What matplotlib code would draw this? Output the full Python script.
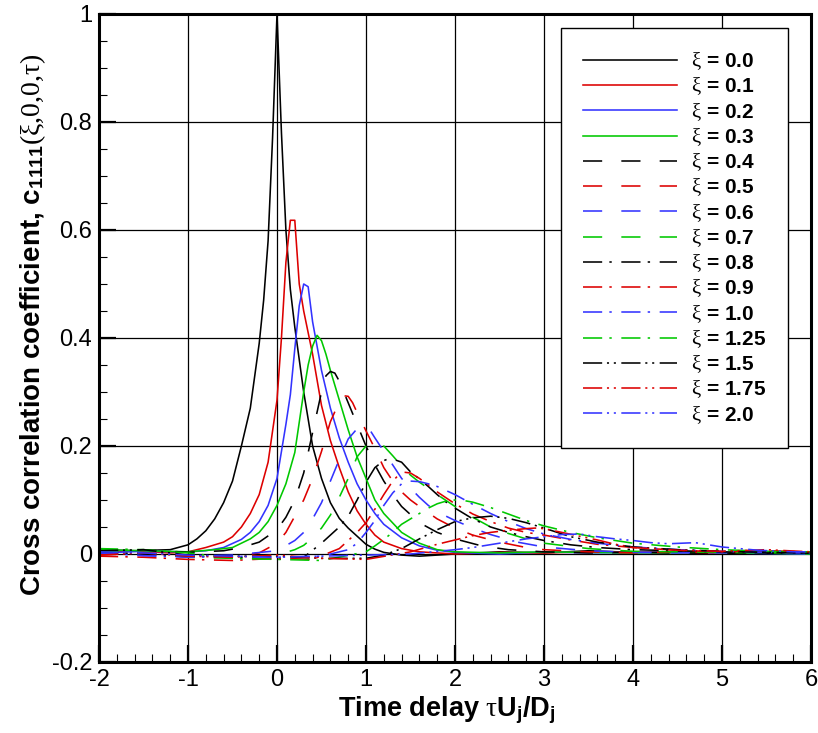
import matplotlib
matplotlib.use('Agg')
import matplotlib.pyplot as plt
from matplotlib.ticker import MultipleLocator

plt.rcParams['font.family'] = ['Liberation Sans', 'DejaVu Sans']
plt.rcParams['mathtext.fontset'] = 'custom'
plt.rcParams['mathtext.rm'] = 'Liberation Serif'
plt.rcParams['mathtext.it'] = 'Liberation Serif:italic'
plt.rcParams['mathtext.bf'] = 'Liberation Sans:bold'

# ---------------- data ----------------
xi_values = ['0.0', '0.1', '0.2', '0.3', '0.4', '0.5', '0.6', '0.7', '0.8',
             '0.9', '1.0', '1.25', '1.5', '1.75', '2.0']

tau_00 = [-2.0, -1.6, -1.2, -1.0, -0.9, -0.8, -0.7, -0.6, -0.5, -0.4, -0.3, -0.2, -0.15, -0.1,
          -0.05, 0.0, 0.05, 0.1, 0.15, 0.2, 0.3, 0.4, 0.5, 0.6, 0.7, 0.8, 0.9, 1.0, 1.1, 1.2,
          1.4, 1.6, 1.8, 2.0, 2.5, 3.0, 3.5, 4.0, 4.5, 5.0, 5.5, 6.0]
c_00 = [0.008, 0.006, 0.008, 0.017, 0.028, 0.043, 0.065, 0.095, 0.135, 0.2, 0.27, 0.39, 0.47, 0.58,
        0.77, 1.0, 0.78, 0.6, 0.49, 0.42, 0.30, 0.2, 0.14, 0.095, 0.066, 0.048, 0.033, 0.018, 0.009,
        0.003, -0.002, -0.004, -0.002, 0.0, 0.004, 0.002, 0.006, 0.003, 0.004, 0.002, 0.004, 0.002]

tau_01 = [-2.0, -1.6, -1.2, -1.0, -0.8, -0.6, -0.5, -0.4, -0.3, -0.2, -0.1, 0.0, 0.05, 0.1, 0.15,
          0.2, 0.25, 0.3, 0.4, 0.5, 0.6, 0.7, 0.8, 0.9, 1.0, 1.1, 1.2, 1.4, 1.6, 1.8, 2.0, 2.5,
          3.0, 3.5, 4.0, 5.0, 6.0]
c_01 = [0.003, 0.006, 0.002, 0.004, 0.012, 0.022, 0.032, 0.05, 0.075, 0.11, 0.17, 0.285, 0.40,
        0.54, 0.618, 0.618, 0.50, 0.45, 0.37, 0.275, 0.21, 0.16, 0.115, 0.08, 0.055, 0.035,
        0.022, 0.01, 0.004, 0.002, 0.0, 0.003, 0.002, 0.004, 0.003, 0.002, 0.002]

tau_02 = [-2.0, -1.5, -1.0, -0.8, -0.6, -0.4, -0.3, -0.2, -0.1, 0.0, 0.1, 0.15, 0.2, 0.25, 0.3,
          0.35, 0.4, 0.5, 0.6, 0.7, 0.8, 0.9, 1.0, 1.1, 1.2, 1.4, 1.6, 1.8, 2.0, 2.5, 3.0, 3.5,
          4.0, 5.0, 6.0]
c_02 = [0.002, 0.005, 0.004, 0.006, 0.012, 0.027, 0.04, 0.06, 0.09, 0.14, 0.24, 0.295, 0.38,
        0.46, 0.50, 0.495, 0.43, 0.34, 0.27, 0.215, 0.17, 0.13, 0.1, 0.075, 0.055, 0.03, 0.015,
        0.007, 0.003, 0.0, 0.004, 0.002, 0.003, 0.002, 0.0]

tau_03 = [-2.0, -1.5, -1.0, -0.7, -0.5, -0.3, -0.2, -0.1, 0.0, 0.1, 0.2, 0.3, 0.35, 0.4, 0.45,
          0.5, 0.55, 0.6, 0.7, 0.8, 0.9, 1.0, 1.1, 1.2, 1.4, 1.6, 1.8, 2.0, 2.5, 3.0, 3.5, 4.0,
          5.0, 6.0]
c_03 = [0.008, 0.006, 0.004, 0.008, 0.012, 0.028, 0.04, 0.06, 0.09, 0.13, 0.188, 0.3, 0.35,
        0.385, 0.405, 0.395, 0.37, 0.34, 0.285, 0.23, 0.18, 0.14, 0.1, 0.075, 0.04, 0.02, 0.008,
        0.004, 0.002, 0.004, 0.003, 0.002, 0.003, 0.0]

tau_04 = [-2.0, -1.5, -1.0, -0.6, -0.4, -0.2, 0.0, 0.1, 0.2, 0.3, 0.4, 0.5, 0.55, 0.6, 0.65,
          0.7, 0.8, 0.9, 1.0, 1.1, 1.2, 1.3, 1.4, 1.6, 1.8, 2.0, 2.3, 2.6, 3.0, 3.5, 4.0, 5.0, 6.0]
c_04 = [0.005, 0.008, 0.003, 0.006, 0.012, 0.022, 0.045, 0.068, 0.1, 0.15, 0.225, 0.3, 0.33,
        0.338, 0.335, 0.32, 0.28, 0.24, 0.2, 0.165, 0.135, 0.11, 0.088, 0.058, 0.04, 0.028,
        0.015, 0.008, 0.004, 0.002, 0.003, 0.001, 0.002]

tau_05 = [-2.0, -1.5, -1.0, -0.5, -0.2, 0.0, 0.1, 0.2, 0.3, 0.4, 0.5, 0.6, 0.7, 0.75, 0.8, 0.85,
          0.9, 1.0, 1.1, 1.2, 1.3, 1.4, 1.5, 1.6, 1.8, 2.0, 2.2, 2.5, 2.8, 3.0, 3.5, 4.0, 4.5,
          5.0, 5.5, 6.0]
c_05 = [-0.002, 0.003, -0.006, -0.005, 0.002, 0.02, 0.04, 0.07, 0.1, 0.14, 0.19, 0.245, 0.282,
        0.293, 0.292, 0.28, 0.262, 0.228, 0.195, 0.16, 0.135, 0.115, 0.1, 0.088, 0.065, 0.048,
        0.035, 0.022, 0.012, 0.008, 0.004, 0.002, 0.004, 0.002, 0.006, 0.002]

tau_06 = [-2.0, -1.5, -1.0, -0.5, 0.0, 0.2, 0.3, 0.4, 0.5, 0.6, 0.7, 0.8, 0.9, 0.95, 1.0, 1.05,
          1.1, 1.2, 1.3, 1.4, 1.5, 1.6, 1.7, 1.8, 2.0, 2.2, 2.4, 2.7, 3.0, 3.5, 4.0, 4.5, 5.0,
          5.5, 6.0]
c_06 = [0.004, -0.003, -0.004, -0.002, 0.006, 0.025, 0.04, 0.065, 0.095, 0.135, 0.175, 0.213,
        0.232, 0.237, 0.236, 0.228, 0.215, 0.19, 0.165, 0.14, 0.122, 0.105, 0.09, 0.078, 0.062,
        0.048, 0.036, 0.022, 0.013, 0.006, 0.003, 0.002, 0.003, 0.002, 0.0]

tau_07 = [-2.0, -1.5, -1.0, -0.5, 0.0, 0.2, 0.3, 0.4, 0.5, 0.6, 0.7, 0.8, 0.9, 1.0, 1.05, 1.1,
          1.15, 1.2, 1.3, 1.4, 1.5, 1.6, 1.8, 2.0, 2.2, 2.4, 2.6, 2.8, 3.0, 3.5, 4.0, 4.5, 5.0,
          5.5, 6.0]
c_07 = [0.006, 0.002, -0.006, -0.008, -0.002, 0.008, 0.016, 0.03, 0.048, 0.072, 0.105, 0.14,
        0.18, 0.2, 0.206, 0.207, 0.206, 0.2, 0.182, 0.163, 0.146, 0.133, 0.11, 0.088, 0.068,
        0.05, 0.038, 0.028, 0.02, 0.01, 0.005, 0.004, 0.003, 0.002, 0.003]

tau_08 = [-2.0, -1.5, -1.0, -0.5, 0.0, 0.3, 0.5, 0.6, 0.7, 0.8, 0.9, 1.0, 1.1, 1.2, 1.25, 1.3,
          1.4, 1.5, 1.6, 1.7, 1.8, 1.9, 2.0, 2.2, 2.4, 2.6, 2.8, 3.0, 3.3, 3.6, 4.0, 4.5, 5.0,
          5.5, 6.0]
c_08 = [0.003, 0.0, -0.004, -0.006, -0.01, -0.006, 0.02, 0.035, 0.05, 0.07, 0.1, 0.133, 0.16,
        0.173, 0.176, 0.176, 0.17, 0.152, 0.139, 0.125, 0.11, 0.096, 0.085, 0.065, 0.05, 0.04,
        0.032, 0.025, 0.017, 0.012, 0.008, 0.006, 0.004, 0.002, 0.002]

tau_09 = [-2.0, -1.5, -1.0, -0.5, 0.0, 0.4, 0.7, 0.8, 0.9, 1.0, 1.1, 1.2, 1.3, 1.4, 1.5, 1.6,
          1.7, 1.8, 2.0, 2.2, 2.4, 2.6, 2.8, 3.0, 3.3, 3.6, 4.0, 4.5, 5.0, 5.5, 6.0]
c_09 = [-0.004, -0.006, -0.01, -0.012, -0.008, -0.01, 0.01, 0.025, 0.04, 0.058, 0.083, 0.11,
        0.135, 0.152, 0.15, 0.14, 0.128, 0.115, 0.093, 0.074, 0.06, 0.048, 0.04, 0.035, 0.026,
        0.018, 0.012, 0.007, 0.004, 0.006, 0.003]

tau_10 = [-2.0, -1.5, -1.0, -0.5, 0.0, 0.5, 0.8, 0.9, 1.0, 1.1, 1.2, 1.3, 1.4, 1.5, 1.6, 1.7,
          1.8, 2.0, 2.2, 2.4, 2.6, 2.8, 3.0, 3.3, 3.6, 4.0, 4.5, 5.0, 5.5, 6.0]
c_10 = [0.002, -0.003, -0.006, -0.004, -0.006, -0.004, 0.008, 0.02, 0.04, 0.062, 0.09, 0.113,
        0.13, 0.135, 0.134, 0.13, 0.125, 0.11, 0.092, 0.075, 0.06, 0.047, 0.037, 0.027, 0.02,
        0.013, 0.008, 0.005, 0.003, 0.002]

tau_125 = [-2.0, -1.5, -1.0, -0.5, 0.0, 0.5, 1.0, 1.1, 1.2, 1.3, 1.4, 1.5, 1.6, 1.7, 1.8, 1.9,
           2.0, 2.1, 2.2, 2.4, 2.6, 2.8, 3.0, 3.3, 3.6, 4.0, 4.5, 5.0, 5.5, 6.0]
c_125 = [0.01, 0.008, 0.002, -0.008, -0.01, -0.012, 0.004, 0.015, 0.027, 0.04, 0.055, 0.065,
         0.075, 0.085, 0.093, 0.098, 0.1, 0.099, 0.096, 0.086, 0.074, 0.062, 0.052, 0.04, 0.03,
         0.02, 0.013, 0.008, 0.005, 0.004]

tau_15 = [-2.0, -1.5, -1.0, -0.5, 0.0, 0.5, 1.0, 1.2, 1.4, 1.6, 1.8, 2.0, 2.2, 2.4, 2.6, 2.8,
          3.0, 3.3, 3.6, 4.0, 4.5, 5.0, 5.5, 6.0]
c_15 = [0.006, 0.008, -0.002, -0.004, -0.004, -0.008, -0.008, -0.002, 0.01, 0.028, 0.045, 0.06,
        0.067, 0.07, 0.066, 0.058, 0.048, 0.032, 0.022, 0.013, 0.008, 0.005, 0.003, 0.002]

tau_175 = [-2.0, -1.5, -1.0, -0.5, 0.0, 0.5, 1.0, 1.5, 1.8, 2.0, 2.2, 2.4, 2.6, 2.8, 2.9, 3.0,
           3.2, 3.4, 3.6, 3.8, 4.0, 4.5, 5.0, 5.5, 6.0]
c_175 = [-0.002, 0.002, -0.004, -0.006, -0.002, -0.008, -0.01, 0.004, 0.018, 0.026, 0.034, 0.04,
         0.044, 0.047, 0.048, 0.047, 0.04, 0.033, 0.026, 0.018, 0.012, 0.007, 0.005, 0.008, 0.004]

tau_20 = [-2.0, -1.5, -1.0, -0.5, 0.0, 0.5, 1.0, 1.5, 2.0, 2.2, 2.5, 2.8, 3.0, 3.2, 3.4, 3.6,
          3.8, 4.0, 4.2, 4.4, 4.7, 5.0, 5.4, 5.8, 6.0]
c_20 = [0.004, 0.002, -0.002, -0.004, -0.006, -0.004, -0.002, 0.0, 0.008, 0.012, 0.02, 0.028,
        0.032, 0.036, 0.037, 0.032, 0.028, 0.025, 0.021, 0.019, 0.021, 0.013, 0.007, 0.004, 0.004]

x_ticks = [-2, -1, 0, 1, 2, 3, 4, 5, 6]
y_ticks = [-0.2, 0, 0.2, 0.4, 0.6, 0.8, 1]
y_ticklabels = ['-0.2', '0', '0.2', '0.4', '0.6', '0.8', '1']

# ---------------- styles ----------------
BLACK, RED, BLUE, GREEN = '#000000', '#dd0000', '#3333ff', '#00c800'
SOLID = None
DASH = (12, 12)
DASHDOT = (12, 4.5, 1.5, 6)
DASHDOTDOT = (12, 3, 1.3, 3, 1.3, 3.4)

series = [
    (tau_00, c_00, BLACK, SOLID), (tau_01, c_01, RED, SOLID),
    (tau_02, c_02, BLUE, SOLID), (tau_03, c_03, GREEN, SOLID),
    (tau_04, c_04, BLACK, DASH), (tau_05, c_05, RED, DASH),
    (tau_06, c_06, BLUE, DASH), (tau_07, c_07, GREEN, DASH),
    (tau_08, c_08, BLACK, DASHDOT), (tau_09, c_09, RED, DASHDOT),
    (tau_10, c_10, BLUE, DASHDOT), (tau_125, c_125, GREEN, DASHDOT),
    (tau_15, c_15, BLACK, DASHDOTDOT), (tau_175, c_175, RED, DASHDOTDOT),
    (tau_20, c_20, BLUE, DASHDOTDOT),
]

fig = plt.figure(figsize=(8.18, 7.33), dpi=100)
ax = fig.add_axes([99 / 818, 1 - 662 / 733, 712 / 818, 648 / 733])

for (t, c, col, dash), xi in zip(series, xi_values):
    lab = r'$\mathrm{\xi}$ = ' + xi
    if dash is None:
        ax.plot(t, c, color=col, lw=1.15, label=lab)
    else:
        ax.plot(t, c, color=col, lw=1.15, dashes=dash, label=lab)

ax.set_xlim(-2, 6)
ax.set_ylim(-0.2, 1)
ax.set_xticks(x_ticks)
ax.set_yticks(y_ticks)
ax.set_xticklabels([str(v) for v in x_ticks])
ax.set_yticklabels(y_ticklabels)
ax.xaxis.set_minor_locator(MultipleLocator(0.2))
ax.yaxis.set_minor_locator(MultipleLocator(0.05))
ax.grid(True, which='major', color='black', lw=0.9)
ax.set_axisbelow(True)
ax.tick_params(which='major', direction='in', length=12, width=1.6, labelsize=17, pad=5,
               top=False, right=False)
ax.tick_params(which='minor', direction='in', length=6, width=0.8, top=False, right=False)
for s in ax.spines.values():
    s.set_linewidth(2.2)

ax.set_xlabel(r'Time delay $\mathrm{\tau}$U$_{\mathbf{j}}$/D$_{\mathbf{j}}$',
              fontsize=19.5, fontweight='bold')
ax.xaxis.set_label_coords(0.489, -0.05)
ax.set_ylabel(r'Cross correlation coefficient, c$_{\mathbf{1111}}$'
              r'$\mathrm{(\xi{,}0{,}0{,}\tau)}$',
              fontsize=20, fontweight='bold')
ax.yaxis.set_label_coords(-0.072, 0.52)

leg = ax.legend(loc='upper right', bbox_to_anchor=(0.968, 0.978), borderaxespad=0,
                prop={'family': 'Liberation Sans', 'weight': 'bold', 'size': 15},
                handlelength=4.5, handletextpad=0.7, labelspacing=0.158,
                borderpad=1.05, fancybox=False, framealpha=1, edgecolor='black')
leg.get_frame().set_linewidth(1.0)

fig.savefig('out.png', dpi=100)
